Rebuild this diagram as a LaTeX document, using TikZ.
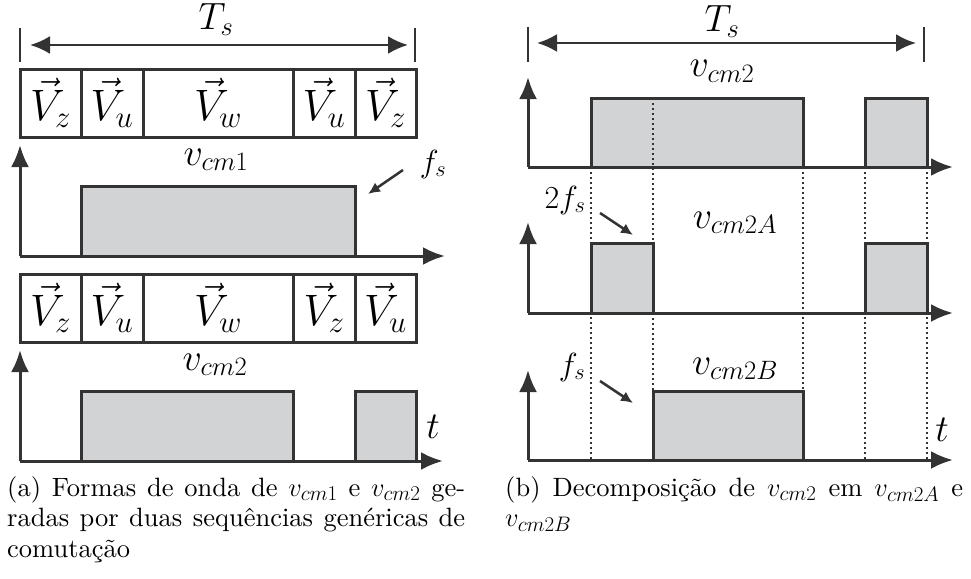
\RequirePackage{fix-cm}
\documentclass[tikz,border=0pt]{standalone}
\usepackage{fontspec}
\setmainfont{lmroman10-regular.otf}
\usepackage{tikz}
\usetikzlibrary{arrows.meta}
\definecolor{linegray}{HTML}{333333}
\definecolor{pulsegray}{HTML}{D1D3D4}
\DeclareMathSizes{26.5}{26.5}{21}{17}
\newcommand{\lblsize}{\fontsize{38}{44}\selectfont}
\newcommand{\vecsize}{\fontsize{44}{50}\selectfont}
\newcommand{\hintsize}{\fontsize{32}{38}\selectfont}
\newcommand{\capsize}{\fontsize{26.5}{30.5}\selectfont}

\begin{document}
\begin{tikzpicture}[x=1pt, y=-1pt,
  cell/.style={draw=linegray, line width=3pt, minimum height=68pt,
               inner sep=0pt, font=\vecsize},
  axis/.style={-{Latex[length=22pt,width=18pt]}, line width=3pt, draw=linegray},
  span/.style={{Latex[length=20pt,width=18pt]}-{Latex[length=20pt,width=18pt]},
               line width=2.5pt, draw=linegray},
  tick/.style={line width=2pt, draw=linegray},
  pulse/.style={draw=linegray, line width=3pt, fill=pulsegray},
  hint/.style={-{Latex[length=12pt,width=11pt]}, line width=2.5pt, draw=linegray},
  grid/.style={line width=1.5pt, draw=linegray, dash pattern=on 1.5pt off 3.5pt},
  lbl/.style={font=\lblsize, anchor=base, inner sep=0pt},
  captext/.style={font=\capsize, text width=458pt, align=justify,
              anchor=north west, inner sep=0pt},
]
\useasboundingbox (0,0) rectangle (971,578);

% ---- (a) left panel ----
\coordinate (ta1) at (20,28);  \coordinate (ta2) at (415,28);
\draw[tick] (ta1) -- ++(0,34);
\draw[tick] (ta2) -- ++(0,34);
\draw[span] ([shift={(10,17)}]ta1) -- ([shift={(-7,17)}]ta2);
\node[lbl] (tsa) at (216,30) {$T_s$};

\node[cell, minimum width=61pt]  (za1) at (50.5,103) {$\vec{V}_z$};
\node[cell, minimum width=62pt]  (ua1) at (112,103)  {$\vec{V}_u$};
\node[cell, minimum width=150pt] (wa1) at (218,103)  {$\vec{V}_w$};
\node[cell, minimum width=62pt]  (ua2) at (324,103)  {$\vec{V}_u$};
\node[cell, minimum width=61pt]  (za2) at (385.5,103) {$\vec{V}_z$};

\coordinate (oa1) at (20,256);
\draw[pulse] (81,256) |- (355,186) -- (355,256);
\draw[axis] (oa1) -- (20,145);
\draw[axis] (oa1) -- (445,256);
\node[lbl] (vcm1) at (216,165) {$v_{cm1}$};
\node[lbl, font=\hintsize] (fsa) at (433,172) {$f_s$};
\coordinate (h0a) at (403,170); \coordinate (h0b) at (368,194);
\draw[hint] (h0a) -- (h0b);

\node[cell, minimum width=61pt]  (zb1) at (50.5,308) {$\vec{V}_z$};
\node[cell, minimum width=62pt]  (ub1) at (112,308)  {$\vec{V}_u$};
\node[cell, minimum width=150pt] (wb1) at (218,308)  {$\vec{V}_w$};
\node[cell, minimum width=62pt]  (zb2) at (324,308)  {$\vec{V}_z$};
\node[cell, minimum width=61pt]  (ub2) at (385.5,308) {$\vec{V}_u$};

\coordinate (oa2) at (20,461);
\draw[pulse] (81,461) |- (293,391) -- (293,461);
\draw[pulse] (355,461) |- (416,391) -- (416,461);
\draw[axis] (oa2) -- (20,350);
\draw[axis] (oa2) -- (443,461);
\node[lbl] (vcm2a) at (215,370) {$v_{cm2}$};
\node[lbl] (ta) at (433,438) {$t$};

% ---- (b) right panel ----
\coordinate (tb1) at (528,27);  \coordinate (tb2) at (924,27);
\draw[tick] (tb1) -- ++(0,35);
\draw[tick] (tb2) -- ++(0,35);
\draw[span] ([shift={(9,16)}]tb1) -- ([shift={(-8,16)}]tb2);
\node[lbl] (tsb) at (722,32) {$T_s$};

\coordinate (ob1) at (528,167);
\coordinate (ob2) at (528,313);
\coordinate (ob3) at (528,460);
\draw[pulse] (591,167) |- (803,98) -- (803,167);
\draw[pulse] (865,167) |- (927,98) -- (927,167);
\draw[pulse] (591,313) |- (653,243) -- (653,313);
\draw[pulse] (865,313) |- (927,243) -- (927,313);
\draw[pulse] (653,460) |- (803,391) -- (803,460);

% dotted edges
\draw[grid] (591,167) -- (591,460);
\draw[grid] (653,98)  -- (653,460);
\draw[grid] (803,167) -- (803,460);
\draw[grid] (865,167) -- (865,460);
\draw[grid] (927,167) -- (927,460);

\draw[axis] (ob1) -- (528,77);
\draw[axis] (ob1) -- (953,167);
\draw[axis] (ob2) -- (528,222);
\draw[axis] (ob2) -- (953,313);
\draw[axis] (ob3) -- (528,370);
\draw[axis] (ob3) -- (953,460);

\node[lbl] (vcm2b) at (722,77)  {$v_{cm2}$};
\node[lbl] (vcm2A) at (735,228) {$v_{cm2A}$};
\node[lbl] (vcm2B) at (735,374) {$v_{cm2B}$};
\node[lbl] (tb) at (942,441) {$t$};
\node[lbl, font=\hintsize] (fs2) at (565,208) {$2f_s$};
\node[lbl, font=\hintsize] (fs1) at (572,375) {$f_s$};
\coordinate (h2a) at (600,213); \coordinate (h2b) at (633,235);
\coordinate (h1a) at (600,381); \coordinate (h1b) at (633,403);
\draw[hint] (h2a) -- (h2b);
\draw[hint] (h1a) -- (h1b);

% ---- captions ----
\node[captext] (capa) at (7,476)
  {(a) Formas de onda de $v_{cm1}$ e $v_{cm2}$ ge-\linebreak radas por duas
   sequências genéricas de\linebreak comutação};
\node[captext] (capb) at (505,476)
  {(b) Decomposição de $v_{cm2}$ em $v_{cm2A}$ e\linebreak $v_{cm2B}$};
\end{tikzpicture}
\end{document}
